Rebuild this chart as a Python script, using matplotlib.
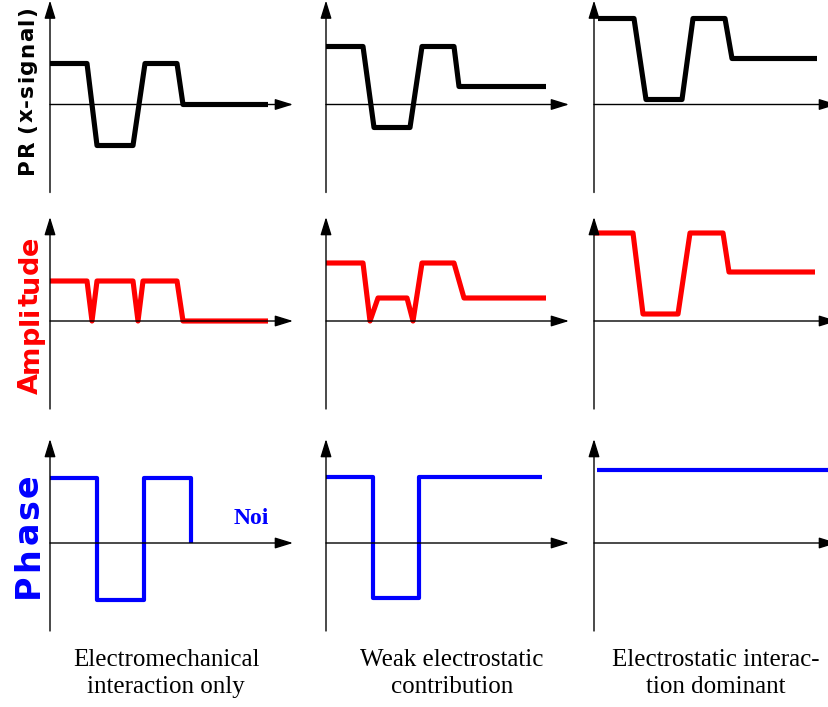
import matplotlib
matplotlib.use("Agg")
import matplotlib.pyplot as plt

# waveform breakpoints: time (arbitrary units) and level, one list per column
pr_times = [
    [0, 3.7, 4.7, 8.3, 9.5, 12.7, 13.3, 21.8],
    [0, 3.7, 4.8, 8.4, 9.6, 12.8, 13.3, 22.0],
    [0.4, 4.0, 5.2, 8.8, 9.9, 13.1, 13.8, 22.3],
]
pr_levels = [
    [4.1, 4.1, -4.1, -4.1, 4.1, 4.1, 0, 0],
    [5.8, 5.8, -2.3, -2.3, 5.8, 5.8, 1.8, 1.8],
    [8.6, 8.6, 0.5, 0.5, 8.6, 8.6, 4.6, 4.6],
]

amp_times = [
    [0, 3.7, 4.2, 4.7, 8.3, 8.8, 9.3, 12.7, 13.3, 21.8],
    [0, 3.7, 4.4, 5.2, 8.1, 8.7, 9.6, 12.8, 13.8, 22.0],
    [0, 3.9, 4.9, 8.4, 9.6, 12.9, 13.5, 22.1],
]
amp_levels = [
    [4.0, 4.0, 0, 4.0, 4.0, 0, 4.0, 4.0, 0, 0],
    [5.8, 5.8, 0, 2.3, 2.3, 0, 5.8, 5.8, 2.3, 2.3],
    [8.8, 8.8, 0.7, 0.7, 8.8, 8.8, 4.9, 4.9],
]

phase_times = [
    [0, 4.7, 4.7, 9.4, 9.4, 14.1, 14.1],
    [0, 4.7, 4.7, 9.3, 9.3, 21.6],
    [0.3, 24.5],
]
phase_levels = [
    [6.5, 6.5, -5.7, -5.7, 6.5, 6.5, 0],
    [6.6, 6.6, -5.5, -5.5, 6.6, 6.6],
    [7.3, 7.3],
]

row_labels = ["PR (x-signal)", "Amplitude", "Phase"]
row_colors = ["black", "#ff0000", "#0000ff"]
col_labels = ["Electromechanical\ninteraction only",
              "Weak electrostatic\ncontribution",
              "Electrostatic interac-\ntion dominant"]

W, H = 829, 707
XMAX, YMIN, YMAX = 24.3, -8.8, 10.4
col_x = [50, 326, 594]        # pixel x of each vertical axis
row_y = [104.5, 321, 543]     # pixel y of each horizontal axis

fig = plt.figure(figsize=(W / 100, H / 100), dpi=100)


def make_axes(px, py):
    left = px / W
    bottom = 1 - (py - YMIN * 10) / H
    ax = fig.add_axes([left, bottom, XMAX * 10 / W, (YMAX - YMIN) * 10 / H])
    ax.set_xlim(0, XMAX)
    ax.set_ylim(YMIN, YMAX)
    ax.axis("off")
    arrow = dict(arrowstyle="-|>,head_length=0.55,head_width=0.17",
                 lw=1.0, color="black", mutation_scale=20,
                 shrinkA=0, shrinkB=0)
    ax.annotate("", xy=(0, YMAX), xytext=(0, YMIN), arrowprops=arrow,
                annotation_clip=False)
    ax.annotate("", xy=(XMAX, 0), xytext=(0, 0), arrowprops=arrow,
                annotation_clip=False)
    return ax


def tracked_label(text, x_px, yc_px, size, color, gap_px):
    # vertical bold label with extra letter spacing
    renderer = fig.canvas.get_renderer()
    parts = []
    for ch in text:
        t = fig.text(0, 0, ch, rotation=90, rotation_mode="anchor",
                     ha="left", va="baseline", fontsize=size,
                     fontweight="bold", family="DejaVu Sans", color=color)
        if ch == " ":
            h = size * 0.2 * 100 / 72
        else:
            h = t.get_window_extent(renderer).height
        parts.append((t, h))
    total = sum(h for _, h in parts) + gap_px * (len(parts) - 1)
    y = yc_px + total / 2
    for t, h in parts:
        t.set_position((x_px / W, 1 - y / H))
        y -= h + gap_px


series = [(pr_times, pr_levels, 3.7), (amp_times, amp_levels, 3.7),
          (phase_times, phase_levels, 3.0)]

for r, (times, levels, lw) in enumerate(series):
    for c in range(3):
        ax = make_axes(col_x[c], row_y[r])
        ax.plot(times[c], levels[c], color=row_colors[r], lw=lw,
                solid_joinstyle="round", solid_capstyle="butt", clip_on=False)
        if r == 2 and c == 0:
            ax.text(20.1, 2.4, "Noi", color="#0000ff", fontsize=17,
                    fontweight="bold", family="Liberation Serif",
                    ha="center", va="center")

tracked_label(row_labels[0], 33, 90, 15.5, row_colors[0], 1.3)
tracked_label(row_labels[1], 37.5, 315, 19.5, row_colors[1], 0.0)
tracked_label(row_labels[2], 38, 536, 24, row_colors[2], 2.5)

for c, lab in enumerate(col_labels):
    fig.text([166, 452, 716][c] / W, 1 - 673.5 / H, lab, ha="center",
             va="center", fontsize=18, family="Liberation Serif",
             linespacing=1.32, multialignment="center")

fig.savefig("out.png", dpi=100)
